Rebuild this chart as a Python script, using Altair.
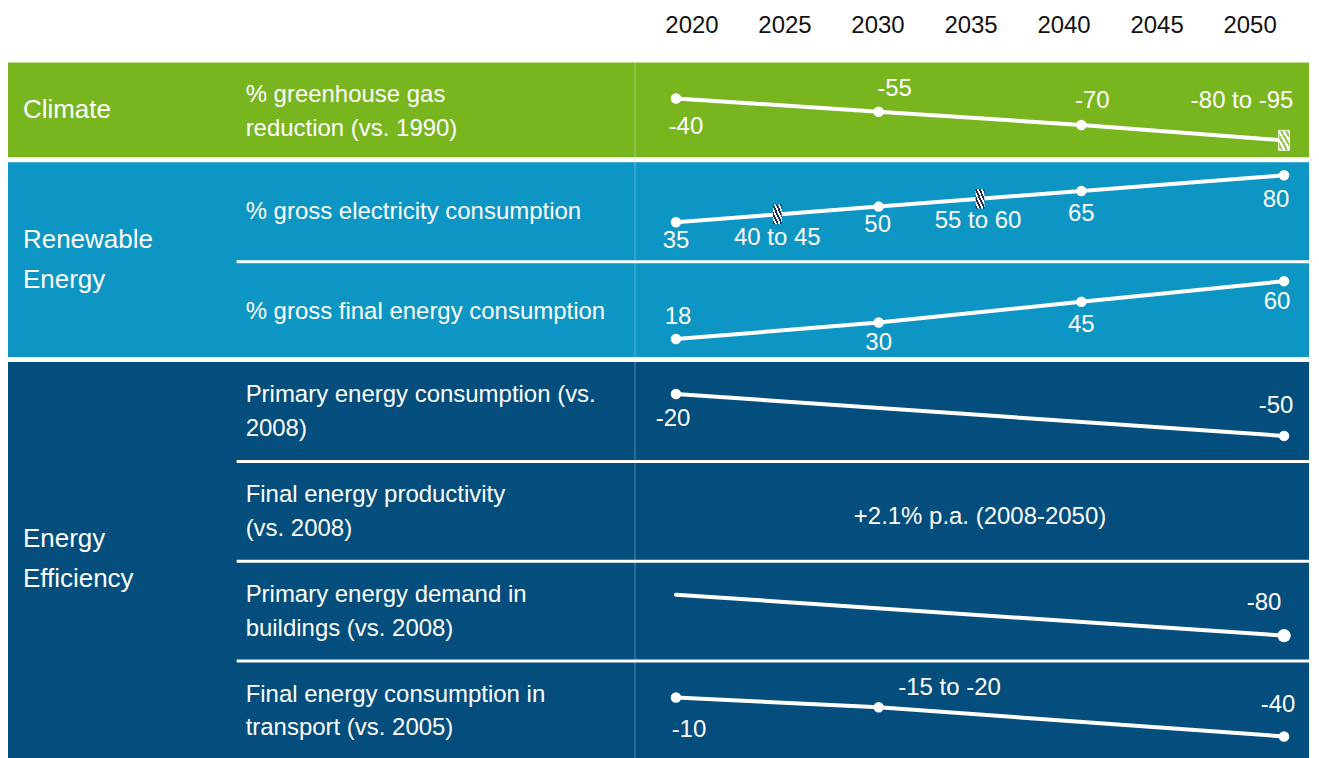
import altair as alt
import pandas as pd

# ---------------- data ----------------
YEARS = [2020, 2025, 2030, 2035, 2040, 2045, 2050]

GROUP_NAMES = ["Climate", "Renewable\nEnergy", "Energy\nEfficiency"]
GROUP_FIRST_ROW = [0, 1, 3]
GROUP_ROW_COUNT = [1, 2, 4]

INDICATORS = [
    "% greenhouse gas\nreduction (vs. 1990)",
    "% gross electricity consumption",
    "% gross final energy consumption",
    "Primary energy consumption (vs.\n2008)",
    "Final energy productivity\n(vs. 2008)",
    "Primary energy demand in\nbuildings (vs. 2008)",
    "Final energy consumption in\ntransport (vs. 2005)",
]

GHG_YEARS = [2020, 2030, 2040, 2050]
GHG_LOW = [-40, -55, -70, -80]
GHG_HIGH = [-40, -55, -70, -95]

ELEC_YEARS = [2020, 2025, 2030, 2035, 2040, 2050]
ELEC_LOW = [35, 40, 50, 55, 65, 80]
ELEC_HIGH = [35, 45, 50, 60, 65, 80]

FINAL_YEARS = [2020, 2030, 2040, 2050]
FINAL_LOW = [18, 30, 45, 60]
FINAL_HIGH = [18, 30, 45, 60]

PRIM_YEARS = [2020, 2050]
PRIM_LOW = [-20, -50]
PRIM_HIGH = [-20, -50]

PRODUCTIVITY_TEXT = "+2.1% p.a. (2008-2050)"
PRODUCTIVITY_SPAN = [2020, 2050]

BUILD_YEARS = [2020, 2050]
BUILD_LOW = [None, -80]
BUILD_HIGH = [None, -80]

TRANS_YEARS = [2020, 2030, 2050]
TRANS_LOW = [-10, -15, -40]
TRANS_HIGH = [-10, -20, -40]

# ---------------- layout / style ----------------
FONT = "Liberation Sans, Arial"
GROUP_COLORS = ["#78B51F", "#0D95C3", "#034E7D"]
H = 752
LEFT_W = 627
RIGHT_W = 676
PX_PER_YEAR = 20.3
X_DOMAIN = [2020 - 42 / PX_PER_YEAR, 2020 + (RIGHT_W - 42) / PX_PER_YEAR]
HDR_PX = 559 / 30.0
HDR_DOMAIN = [2020 - 58 / HDR_PX, 2020 + (RIGHT_W - 58) / HDR_PX]
Y_DOMAIN = [-0.54, -0.54 + H / 100.0]
GROUP_LH = 40
IND_LH = 34

SERIES = {
    0: (GHG_YEARS, GHG_LOW, GHG_HIGH),
    1: (ELEC_YEARS, ELEC_LOW, ELEC_HIGH),
    2: (FINAL_YEARS, FINAL_LOW, FINAL_HIGH),
    3: (PRIM_YEARS, PRIM_LOW, PRIM_HIGH),
    5: (BUILD_YEARS, BUILD_LOW, BUILD_HIGH),
    6: (TRANS_YEARS, TRANS_LOW, TRANS_HIGH),
}
# within-row vertical mapping (value_a -> frac_a, value_b -> frac_b)
ROW_MAP = {
    0: (-40, 0.36, -87.5, 0.78),
    1: (35, 0.60, 80, 0.13),
    2: (18, 0.77, 60, 0.19),
    3: (-20, 0.32, -50, 0.74),
    5: (None, 0.33, -80, 0.74),
    6: (-10, 0.36, -40, 0.75),
}
# label offsets in px (positive dy = below the point)
LABEL_DY = {0: [29, -23, -24, -39], 1: [19, 24, 18, 22, 23, 25], 2: [-22, 21, 23, 21],
            3: [25, -30], 5: [0, -33], 6: [33, -19, -31]}
LABEL_DX = {0: [10, 16, 11, -42], 1: [0, 0, -1, -2, 0, -8], 2: [2, 0, 0, -7],
            3: [-3, -8], 5: [0, -20], 6: [13, 71, -6]}
HATCHED = {(0, 2050): "green", (1, 2025): "navy", (1, 2035): "navy"}

# ---------------- tables ----------------
recs = []
for row, (yrs, lo, hi) in SERIES.items():
    va, pa, vb, pb = ROW_MAP[row]
    for i, (yr, l, h) in enumerate(zip(yrs, lo, hi)):
        if l is None:
            frac, label, mid = pa, "", None
        else:
            mid = (l + h) / 2
            frac = pb if va is None else pa + (mid - va) * (pb - pa) / (vb - va)
            label = f"{l}" if l == h else f"{l} to {h}"
        pos = row + frac
        recs.append(dict(
            row=row, year=yr, value=mid, label=label, pos=pos,
            lx=yr + LABEL_DX[row][i] / PX_PER_YEAR,
            ly=pos + LABEL_DY[row][i] / 100.0,
            dot=(l is not None) and ((row, yr) not in HATCHED),
            hatch=HATCHED.get((row, yr), ""),
        ))
pts = pd.DataFrame(recs)


def first_line_y(center, text, lh):
    # Vega places the first line at y; shift so the text block is centred
    return center - (text.count("\n")) * lh / 2 / 100.0


groups = pd.DataFrame(dict(
    name=GROUP_NAMES,
    y0=GROUP_FIRST_ROW,
    y1=[f + n - 0.05 for f, n in zip(GROUP_FIRST_ROW, GROUP_ROW_COUNT)],
    yc=[first_line_y(f + n / 2 - 0.025, t, GROUP_LH)
        for f, n, t in zip(GROUP_FIRST_ROW, GROUP_ROW_COUNT, GROUP_NAMES)],
))
groups.loc[len(groups) - 1, "y1"] = Y_DOMAIN[1]
inds = pd.DataFrame(dict(
    text=INDICATORS,
    yc=[first_line_y(r + 0.5, t, IND_LH) for r, t in enumerate(INDICATORS)],
))
first_rows = set(GROUP_FIRST_ROW)
seps = pd.DataFrame(dict(y=[r - 0.005 for r in range(1, len(INDICATORS)) if r not in first_rows]))
hdr = pd.DataFrame(dict(year=YEARS))
prod = pd.DataFrame(dict(text=[PRODUCTIVITY_TEXT], x=[sum(PRODUCTIVITY_SPAN) / 2], y=[4.55]))
frame = pd.DataFrame(dict(y0=[0.0], y1=[Y_DOMAIN[1]]))

yscale = alt.Scale(domain=Y_DOMAIN, reverse=True, nice=False, zero=False, clamp=True)
xscale = alt.Scale(domain=X_DOMAIN, nice=False, zero=False)
Y = lambda f: alt.Y(f, type="quantitative", scale=yscale, axis=None)
X = lambda f: alt.X(f, type="quantitative", scale=xscale, axis=None)


def bands():
    return alt.Chart(groups).mark_rect().encode(
        x=alt.value(0), x2=alt.value("width"),
        y=Y("y0"), y2="y1:Q",
        fill=alt.Fill("name:N", scale=alt.Scale(domain=GROUP_NAMES, range=GROUP_COLORS), legend=None),
    )


def separators(x0):
    return alt.Chart(seps).mark_rule(color="white", strokeWidth=3).encode(
        x=alt.value(x0), x2=alt.value("width"), y=Y("y"))


# ---------------- left panel ----------------
group_text = alt.Chart(groups).mark_text(
    font=FONT, fontSize=26, color="white", align="left", baseline="middle",
    lineBreak="\n", lineHeight=GROUP_LH,
).encode(x=alt.value(15), y=Y("yc"), text="name:N")

ind_text = alt.Chart(inds).mark_text(
    font=FONT, fontSize=24, color="white", align="left", baseline="middle",
    lineBreak="\n", lineHeight=IND_LH,
).encode(x=alt.value(238), y=Y("yc"), text="text:N")

left = alt.layer(bands(), separators(229), group_text, ind_text).properties(width=LEFT_W, height=H)

# ---------------- right panel ----------------
vline = alt.Chart(frame).mark_rule(color="white", opacity=0.3, strokeWidth=1).encode(
    x=alt.value(1), y=Y("y0"), y2="y1:Q")

lines = alt.Chart(pts).mark_line(color="white", strokeWidth=4, strokeCap="round").encode(
    x=X("year"), y=Y("pos"), detail="row:N", order="year:Q")

dots = alt.Chart(pts).transform_filter("datum.dot").mark_circle(color="white", opacity=1).encode(
    x=X("year"), y=Y("pos"),
    size=alt.condition("datum.row == 5", alt.value(180), alt.value(110)))


def stripes(c1, c2, n=7):
    stops = []
    for i in range(n):
        c = c1 if i % 2 == 0 else c2
        stops.append(alt.GradientStop(offset=i / n, color=c))
        stops.append(alt.GradientStop(offset=(i + 1) / n, color=c))
    return alt.LinearGradient(gradient="linear", stops=stops, x1=0, y1=1, x2=1, y2=0)


hatch_green = alt.Chart(pts).transform_filter("datum.hatch == 'green'").mark_point(
    shape="M-0.55,-1L0.55,-1L0.55,1L-0.55,1Z", filled=True, size=400, opacity=1,
    stroke="#E8F3D6", strokeWidth=1,
    fill=stripes("#FFFFFF", "#9CC95A", 9),
).encode(x=X("year"), y=Y("pos"))
hatch_navy = alt.Chart(pts).transform_filter("datum.hatch == 'navy'").mark_point(
    shape="M-0.45,-1L0.45,-1L0.45,1L-0.45,1Z", filled=True, size=380, opacity=1, strokeWidth=0,
    fill=stripes("#1C2B4E", "#FFFFFF", 9),
).encode(x=X("year"), y=Y("pos"))

labels = alt.Chart(pts).transform_filter("datum.label != ''").mark_text(
    font=FONT, fontSize=24, color="white", align="center", baseline="middle",
).encode(x=X("lx"), y=Y("ly"), text="label:N")

prod_text = alt.Chart(prod).mark_text(
    font=FONT, fontSize=24, color="white", align="center", baseline="middle",
).encode(x=X("x"), y=Y("y"), text="text:N")

data_layers = alt.layer(bands(), separators(0), vline, lines, dots, hatch_green, hatch_navy, labels, prod_text)

header = alt.Chart(hdr).mark_text(
    font=FONT, fontSize=24, color="#111111", align="center", baseline="middle",
).encode(
    x=alt.X("year:Q", scale=alt.Scale(domain=HDR_DOMAIN, nice=False, zero=False), axis=None),
    y=alt.value(17),
    text=alt.Text("year:Q", format="d"),
)

right = alt.layer(data_layers, header).resolve_scale(x="independent").properties(width=RIGHT_W, height=H)

chart = alt.hconcat(left, right, spacing=0, bounds="flush").properties(padding=0).configure_view(stroke=None)

chart.save("out.html", embed_options={"renderer": "svg", "actions": False})
